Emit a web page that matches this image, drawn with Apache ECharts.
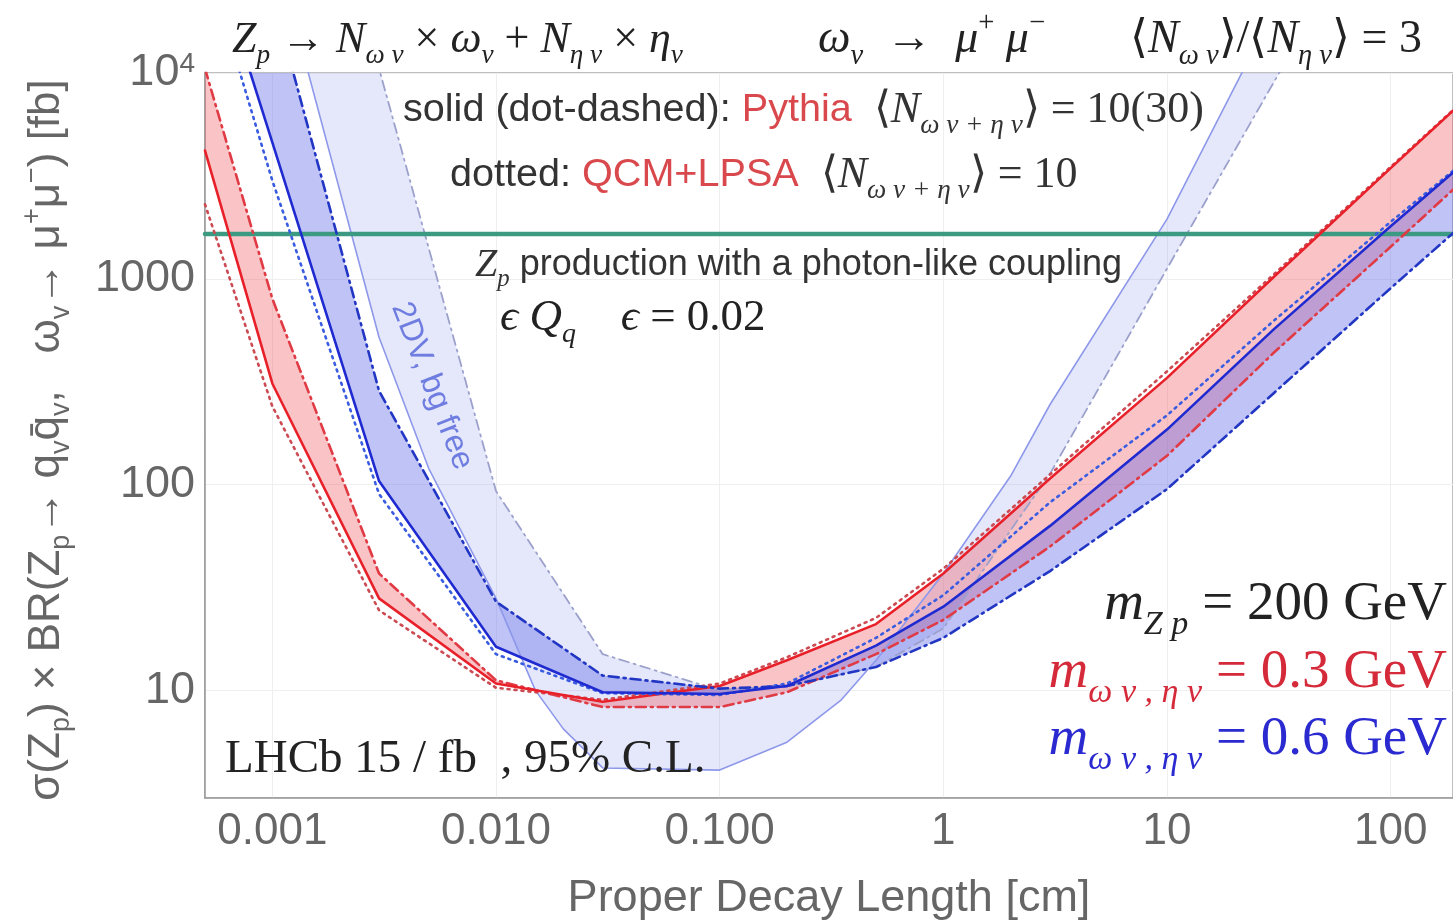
<!DOCTYPE html>
<html>
<head>
<meta charset="utf-8">
<title>Zp limits</title>
<script src="https://cdn.jsdelivr.net/npm/echarts@6/dist/echarts.min.js"></script>
<style>html,body{margin:0;padding:0;background:#fff;}</style>
</head>
<body>
<div id="main" style="width:1453px;height:924px;"></div>
<script type="text/javascript">

// axis ticks
var xMin = 0.0005, xMax = 190;
var yMin = 3, yMax = 10000;
var xTicks = [0.001, 0.01, 0.1, 1, 10, 100];
var xTickLabels = ['0.001', '0.010', '0.100', '1', '10', '100'];
var yTicks = [10, 100, 1000, 10000];
var yTickLabels = ['10', '100', '1000', '10{sup|4}'];

// m(omega,eta) = 0.3 GeV
var redSolid = [[0.0005,4200],[0.001,310],[0.003,28],[0.01,10.8],[0.03,8.8],[0.1,10.5],[0.2,14],[0.5,21],[1,37],[3,107],[10,330],[30,1020],[100,3450],[200,6900]];
var redDotDash = [[0.0005,10500],[0.001,800],[0.003,37],[0.01,11.2],[0.03,8.3],[0.1,8.3],[0.2,9.8],[0.5,15],[1,22],[3,50],[10,138],[30,437],[100,1430],[200,2850]];
var redDotted = [[0.0005,2300],[0.001,240],[0.003,24.5],[0.01,10.3],[0.03,9],[0.1,10.8],[0.2,14.5],[0.5,22.5],[1,39],[3,112],[10,355],[30,1050],[100,3500],[200,6950]];

// m(omega,eta) = 0.6 GeV
var blueSolid = [[0.0005,50000],[0.001,4600],[0.003,104],[0.01,16.3],[0.03,9.8],[0.1,9.6],[0.2,10.5],[0.5,16.5],[1,25.5],[3,63],[10,185],[30,568],[100,1800],[200,3450]];
var blueDotDash = [[0.0005,120000],[0.001,24000],[0.003,285],[0.01,27],[0.03,11.8],[0.1,10.2],[0.2,10.5],[0.5,13],[1,18],[3,38],[10,95],[30,278],[100,900],[200,1750]];
var blueDotted = [[0.0005,37000],[0.001,3000],[0.003,90],[0.01,15],[0.03,9.7],[0.1,9.5],[0.2,10.8],[0.5,18],[1,29],[3,82],[10,217],[30,625],[100,1890],[200,3500]];

// 2DV, bg free
var dvSolid = [[0.001,45000],[0.003,520],[0.005,120],[0.01,28],[0.015,10],[0.02,6.5],[0.03,4.2],[0.1,4.1],[0.2,5.6],[0.35,9],[0.5,14],[1,37],[2,110],[3,245],[10,1950],[20,8500],[30,20000]];
var dvDotDash = [[0.002,48000],[0.003,10500],[0.01,93],[0.03,15],[0.1,10],[0.2,10.5],[0.5,13],[1,20],[2,60],[3,113],[10,1120],[30,9000],[40,15500]];

// Zp production, photon-like coupling
var photonLike = [[xMin,1650],[xMax,1650]];

var dotDash = [10, 5, 2, 5];
var dotted = [2, 5];

function tickLabel(v, ticks, labels) {
    for (var i = 0; i < ticks.length; i++) {
        if (Math.abs(Math.log10(v) - Math.log10(ticks[i])) < 1e-6) return labels[i];
    }
    return '';
}

function line(data, color, type, width, z) {
    return {
        type: 'line',
        data: data,
        showSymbol: false,
        silent: true,
        clip: true,
        z: z || 5,
        lineStyle: {color: color, width: width || 2.5, type: type || 'solid', cap: 'round'}
    };
}

function band(upper, lower, color, z) {
    return {
        type: 'custom',
        coordinateSystem: 'cartesian2d',
        clip: true,
        silent: true,
        z: z,
        data: [[1, 10]],
        renderItem: function (params, api) {
            var pts = [];
            upper.forEach(function (p) { pts.push(api.coord(p)); });
            lower.slice().reverse().forEach(function (p) { pts.push(api.coord(p)); });
            return {type: 'polygon', shape: {points: pts}, style: {fill: color}};
        }
    };
}

var serif = 'Liberation Serif';
var sans = 'Liberation Sans';
function mathRich(size, color) {
    return {
        m: {fontFamily: serif, fontStyle: 'italic', fontSize: size, lineHeight: size * 1.35, fill: color},
        r: {fontFamily: serif, fontSize: size, lineHeight: size * 1.35, fill: color},
        t: {fontFamily: sans, fontSize: size * 0.9, lineHeight: size * 1.35, fill: color},
        red: {fontFamily: sans, fontSize: size * 0.9, lineHeight: size * 1.35, fill: '#d9484c'},
        s: {fontFamily: serif, fontStyle: 'italic', fontSize: size * 0.62, lineHeight: size * 0.62, verticalAlign: 'bottom', fill: color},
        p: {fontFamily: serif, fontSize: size * 0.62, lineHeight: size * 0.62, verticalAlign: 'top', fill: color}
    };
}
function txt(x, y, text, size, color, align) {
    return {
        type: 'text', x: x, y: y, z: 100, silent: true,
        style: {text: text, rich: mathRich(size, color), fill: color,
            align: align || 'left', verticalAlign: 'middle'}
    };
}

var myChart = echarts.init(document.getElementById('main'));

var option = {
    backgroundColor: '#fff',
    animation: false,
    grid: {left: 205, right: 0, top: 73, bottom: 126, show: true, borderColor: '#aaa', borderWidth: 1.5,
        containLabel: false, outerBoundsMode: 'none'},
    xAxis: {
        type: 'log', logBase: 10, min: xMin, max: xMax,
        name: 'Proper Decay Length [cm]', nameLocation: 'middle', nameGap: 78,
        nameTextStyle: {fontFamily: sans, fontSize: 45, color: '#666'},
        axisLine: {show: true, lineStyle: {color: '#999', width: 1.5}},
        axisTick: {show: false},
        splitLine: {show: true, lineStyle: {color: '#efefef', width: 1}},
        axisLabel: {
            fontFamily: sans, fontSize: 44, color: '#666', margin: 12,
            formatter: function (v) { return tickLabel(v, xTicks, xTickLabels); }
        }
    },
    yAxis: {
        type: 'log', logBase: 10, min: yMin, max: yMax,
        axisLine: {show: true, lineStyle: {color: '#999', width: 1.5}},
        axisTick: {show: false},
        splitLine: {show: true, lineStyle: {color: '#efefef', width: 1}},
        axisLabel: {
            fontFamily: sans, fontSize: 45, color: '#666', margin: 10,
            formatter: function (v) { return tickLabel(v, yTicks, yTickLabels); },
            rich: {sup: {fontFamily: sans, fontSize: 28, color: '#666', verticalAlign: 'top', lineHeight: 28}}
        }
    },
    series: [
        band(dvSolid, dvDotDash, 'rgba(110,125,235,0.18)', 1),
        band(redSolid, redDotDash, 'rgba(238,60,70,0.30)', 2),
        band(blueSolid, blueDotDash, 'rgba(80,90,230,0.36)', 3),
        line(dvSolid, '#8e98ea', 'solid', 1.6, 4),
        line(dvDotDash, '#9ca1cc', dotDash, 1.8, 4),
        line(photonLike, '#3c9a82', 'solid', 4.5, 4),
        line(redDotted, '#cc4a52', dotted, 2.6),
        line(redDotDash, '#e03a44', dotDash, 2.6),
        line(redSolid, '#e8202a', 'solid', 2.6),
        line(blueDotted, '#3a5ce0', dotted, 2.6),
        line(blueDotDash, '#2236c4', dotDash, 2.6),
        line(blueSolid, '#1f2ad0', 'solid', 2.6)
    ],
    graphic: [
        txt(232, 40, '{m|Z}{s|p}{r| → }{m|N}{s|ω v}{r| × }{m|ω}{s|v}{r| + }{m|N}{s|η v}{r| × }{m|η}{s|v}', 44, '#222'),
        txt(818, 40, '{m|ω}{s|v}{r|  →  }{m|μ}{p|+}{m| μ}{p|−}', 46, '#222'),
        txt(1130, 40, '{r|⟨}{m|N}{s|ω v}{r|⟩/⟨}{m|N}{s|η v}{r|⟩ = 3}', 46, '#222'),
        txt(403, 110, '{t|solid (dot-dashed): }{red|Pythia}{r|  ⟨}{m|N}{s|ω v + η v}{r|⟩ = 10(30)}', 44, '#333'),
        txt(450, 175, '{t|dotted: }{red|QCM+LPSA}{r|  ⟨}{m|N}{s|ω v + η v}{r|⟩ = 10}', 44, '#333'),
        txt(475, 265, '{m|Z}{s|p}{t| production with a photon-like coupling}', 40, '#333'),
        txt(500, 318, '{m|ϵ Q}{s|q}{r|    }{m|ϵ}{r| = 0.02}', 45, '#222'),
        txt(225, 760, '{r|LHCb 15 / fb  , 95% C.L.}', 47, '#222'),
        txt(1447, 605, '{m|m}{s|Z p}{r| = 200 GeV}', 55, '#222', 'right'),
        txt(1447, 673, '{m|m}{s|ω v , η v}{r| = 0.3 GeV}', 55, '#d42a3a', 'right'),
        txt(1447, 740, '{m|m}{s|ω v , η v}{r| = 0.6 GeV}', 55, '#2a2ad0', 'right'),
        {
            type: 'text', x: 432, y: 386, rotation: -1.2, z: 100, silent: true,
            style: {text: '2DV, bg free', fontFamily: sans, fontSize: 32, fill: '#6f7de0',
                align: 'center', verticalAlign: 'middle'}
        },
        {
            type: 'text', x: 47, y: 440, rotation: Math.PI / 2, z: 100, silent: true,
            style: {
                text: '{a|σ(Z}{b|p}{a|) × BR(Z}{b|p}{a|→ q}{b|v}{a|q̄}{b|v}{a|,   ω}{b|v}{a|→ μ}{c|+}{a|μ}{c|−}{a|) [fb]}',
                align: 'center', verticalAlign: 'middle',
                rich: {
                    a: {fontFamily: sans, fontSize: 44, lineHeight: 56, fill: '#666'},
                    b: {fontFamily: sans, fontSize: 27, lineHeight: 27, verticalAlign: 'bottom', fill: '#666'},
                    c: {fontFamily: sans, fontSize: 27, lineHeight: 27, verticalAlign: 'top', fill: '#666'}
                }
            }
        }
    ]
};
myChart.setOption(option);

</script>
</body>
</html>
